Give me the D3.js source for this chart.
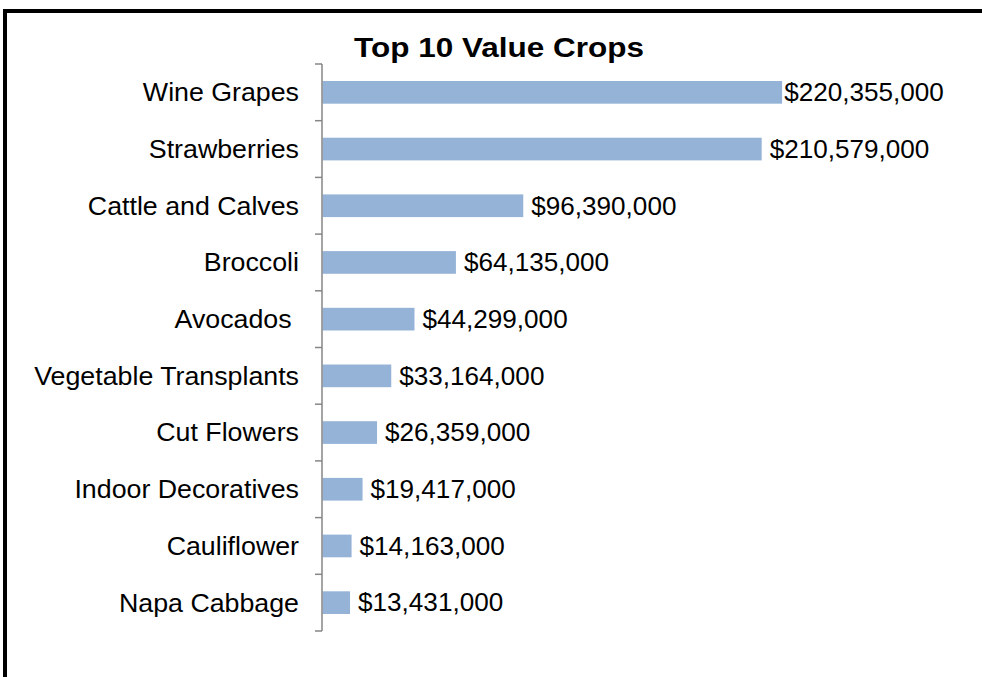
<!DOCTYPE html>
<html>
<head>
<meta charset="utf-8">
<script src="https://cdn.jsdelivr.net/npm/d3@7"></script>
<style>
  html, body { margin: 0; padding: 0; background: #fff; }
  svg { display: block; }
  text { font-family: "Liberation Sans", Arial, sans-serif; fill: #000; }
</style>
</head>
<body>
<svg id="chart" width="982" height="677"></svg>
<script>
// Top 10 crops by value (US dollars)
const crops = [
  "Wine Grapes", "Strawberries", "Cattle and Calves", "Broccoli", "Avocados ",
  "Vegetable Transplants", "Cut Flowers", "Indoor Decoratives", "Cauliflower", "Napa Cabbage"
];
const values = [
  220355000, 210579000, 96390000, 64135000, 44299000,
  33164000, 26359000, 19417000, 14163000, 13431000
];
const valueDomain = [0, 250000000];
const title = "Top 10 Value Crops";

const svg = d3.select("#chart");

// frame around the chart area
svg.append("rect")
  .attr("x", 5).attr("y", 11)
  .attr("width", 1000).attr("height", 700)
  .attr("fill", "#fff")
  .attr("stroke", "#000")
  .attr("stroke-width", 4);

const plot = { left: 322, right: 844, top: 64, bottom: 631 };
const labelLimit = 944;

const x = d3.scaleLinear().domain(valueDomain).range([plot.left, plot.right]);
const y = d3.scaleBand().domain(crops).range([plot.top, plot.bottom]).paddingInner(0.6).paddingOuter(0.3);
const yTicks = d3.scaleBand().domain(crops).range([plot.top, plot.bottom]);

// text widened slightly, as the chart's typeface renders
const stretchTitle = 1.125, stretchCat = 1.05, stretchVal = 1.045;

// title
svg.append("g")
  .attr("transform", `translate(499,57) scale(${stretchTitle},1)`)
  .append("text")
  .attr("text-anchor", "middle")
  .style("font-size", "28px")
  .style("font-weight", "bold")
  .text(title);

// bars
svg.append("g").selectAll("rect")
  .data(crops)
  .join("rect")
  .attr("x", x(0) + 0.5)
  .attr("y", d => y(d))
  .attr("width", (d, i) => x(values[i]) - x(0) - 0.5)
  .attr("height", y.bandwidth())
  .attr("fill", "#95b3d7");

// category axis: vertical line with ticks at band boundaries
const axisColor = "#868686";
const axis = svg.append("g");
axis.append("line")
  .attr("x1", plot.left).attr("x2", plot.left)
  .attr("y1", plot.top).attr("y2", plot.bottom)
  .attr("stroke", axisColor).attr("stroke-width", 1.5);
const boundaries = crops.map(c => yTicks(c)).concat([plot.bottom]);
axis.selectAll("line.tick")
  .data(boundaries)
  .join("line")
  .attr("class", "tick")
  .attr("x1", plot.left - 7).attr("x2", plot.left)
  .attr("y1", d => d).attr("y2", d => d)
  .attr("stroke", axisColor).attr("stroke-width", 1.5);

// category labels
svg.append("g").selectAll("g")
  .data(crops)
  .join("g")
  .attr("transform", d => `translate(299,${yTicks(d) + yTicks.bandwidth() / 2}) scale(${stretchCat},1)`)
  .append("text")
  .attr("dy", "0.35em")
  .attr("text-anchor", "end")
  .attr("xml:space", "preserve")
  .style("white-space", "pre")
  .style("font-size", "25.5px")
  .text(d => d);

// value labels at the bar ends, kept inside the chart area
const fmt = d3.format("$,");
const vg = svg.append("g").selectAll("g")
  .data(crops)
  .join("g");
vg.append("text")
  .attr("dy", "0.35em")
  .style("font-size", "25px")
  .text((d, i) => fmt(values[i]));
vg.attr("transform", function(d, i) {
  const w = d3.select(this).select("text").node().getComputedTextLength() * stretchVal;
  const lx = Math.min(x(values[i]) + 8, labelLimit - w);
  return `translate(${lx},${yTicks(d) + yTicks.bandwidth() / 2}) scale(${stretchVal},1)`;
});
</script>
</body>
</html>
